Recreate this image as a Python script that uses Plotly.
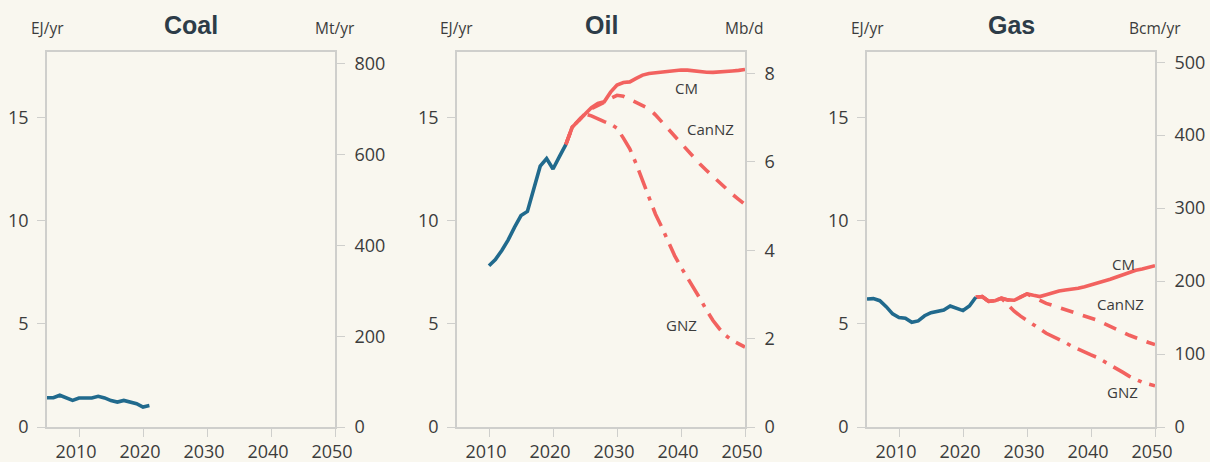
import plotly.graph_objects as go

# ---- data (EJ/yr) ----
coal_years = list(range(2005, 2022))
coal_hist = [1.42, 1.42, 1.54, 1.41, 1.29, 1.41, 1.41, 1.41, 1.49, 1.41,
             1.28, 1.21, 1.29, 1.21, 1.13, 0.97, 1.04]

oil_hist_years = list(range(2010, 2023))
oil_hist = [7.83, 8.13, 8.57, 9.08, 9.70, 10.26, 10.46, 11.51, 12.66, 13.03,
            12.52, 13.12, 13.70]

proj_years = list(range(2022, 2051))
oil_cm = [13.70, 14.55, 14.87, 15.20, 15.50, 15.70, 15.78, 16.25, 16.60, 16.72,
          16.75, 16.92, 17.08, 17.16, 17.20, 17.24, 17.27, 17.30, 17.33, 17.32,
          17.28, 17.24, 17.22, 17.21, 17.22, 17.25, 17.28, 17.31, 17.35]
oil_cannz = [13.70, 14.55, 14.87, 15.20, 15.45, 15.60, 15.75, 15.95, 16.10, 16.05,
             15.90, 15.75, 15.60, 15.45, 15.15, 14.80, 14.45, 14.10, 13.75, 13.40,
             13.05, 12.75, 12.45, 12.15, 11.85, 11.58, 11.30, 11.05, 10.80]
oil_gnz = [13.70, 14.55, 14.87, 15.20, 15.10, 14.95, 14.82, 14.70, 14.50, 14.02,
           13.50, 12.77, 11.96, 11.15, 10.34, 9.70, 8.97, 8.32, 7.76, 7.27,
           6.79, 6.22, 5.66, 5.17, 4.77, 4.44, 4.20, 4.04, 3.88]

gas_years = list(range(2005, 2023))
gas_hist = [6.21, 6.23, 6.13, 5.84, 5.49, 5.31, 5.28, 5.08, 5.15, 5.40,
            5.55, 5.60, 5.68, 5.87, 5.74, 5.65, 5.87, 6.30]
gas_cm = [6.30, 6.33, 6.10, 6.13, 6.25, 6.17, 6.15, 6.30, 6.46, 6.39,
          6.33, 6.42, 6.52, 6.60, 6.65, 6.67, 6.73, 6.81, 6.89, 6.97,
          7.07, 7.17, 7.28, 7.39, 7.49, 7.61, 7.67, 7.77, 7.83]
gas_cannz = [6.30, 6.33, 6.10, 6.13, 6.25, 6.17, 6.15, 6.30, 6.46, 6.30,
             6.15, 6.00, 5.90, 5.80, 5.70, 5.60, 5.50, 5.40, 5.32, 5.18,
             5.03, 4.90, 4.75, 4.60, 4.45, 4.32, 4.20, 4.10, 4.00]
gas_gnz = [6.30, 6.33, 6.10, 6.13, 6.25, 5.92, 5.62, 5.38, 5.19, 4.98,
           4.76, 4.55, 4.40, 4.27, 4.10, 3.92, 3.77, 3.63, 3.50, 3.37,
           3.20, 3.03, 2.85, 2.65, 2.46, 2.30, 2.17, 2.08, 2.00]

panel_titles = ["Coal", "Oil", "Gas"]
right_units = ["Mt/yr", "Mb/d", "Bcm/yr"]
right_tops = [826, 8.49, 514]
right_ticks = [[0, 200, 400, 600, 800], [0, 2, 4, 6, 8], [0, 100, 200, 300, 400, 500]]
left_ticks = [0, 5, 10, 15]
x_ticks = [2010, 2020, 2030, 2040, 2050]

# ---- style ----
BG = "#f9f7ef"
FRAME = "#cfcfcc"
BLUE = "#216a8d"
RED = "#f2625f"
TXT = "#3c3c3c"
FONT = "'Open Sans', Lato, sans-serif"
W, H = 1210, 462
LW = 3.6

panel_left_px = [47, 457, 867]
panel_w_px = 288
top_px, bottom_px = 52, 427
y_top = 18.2

fig = go.Figure()


def add_line(x, y, panel, dash="solid", color=RED):
    fig.add_trace(go.Scatter(
        x=x, y=y, mode="lines", xaxis=f"x{panel}", yaxis=f"y{2 * panel - 1}",
        line=dict(color=color, width=LW, dash=dash), showlegend=False,
        hoverinfo="skip"))


DASH = "13px,10px"
DASHDOT = "20px,8px,4px,8px"

# Coal
add_line(coal_years, coal_hist, 1, color=BLUE)
# Oil
add_line(proj_years, oil_gnz, 2, DASHDOT)
add_line(proj_years, oil_cannz, 2, DASH)
add_line(proj_years, oil_cm, 2)
add_line(oil_hist_years, oil_hist, 2, color=BLUE)
# Gas
add_line(proj_years, gas_gnz, 3, DASHDOT)
add_line(proj_years, gas_cannz, 3, DASH)
add_line(proj_years, gas_cm, 3)
add_line(gas_years, gas_hist, 3, color=BLUE)

# empty traces so each secondary (right-hand) axis gets rendered
for p in (1, 2, 3):
    fig.add_trace(go.Scatter(x=[], y=[], xaxis=f"x{p}", yaxis=f"y{2 * p}",
                             mode="lines", showlegend=False, hoverinfo="skip"))

layout = dict(
    width=W, height=H, paper_bgcolor=BG, plot_bgcolor=BG,
    margin=dict(l=0, r=0, t=0, b=0), showlegend=False,
    font=dict(family=FONT, color=TXT, size=18),
)

ydom = [(H - bottom_px) / H, (H - top_px) / H]
annotations = []
for i in range(3):
    p = i + 1
    x0 = panel_left_px[i] / W
    x1 = (panel_left_px[i] + panel_w_px) / W
    axis_common = dict(showgrid=False, zeroline=False, showline=True,
                       linecolor=FRAME, linewidth=1.6, ticks="outside",
                       ticklen=8, tickwidth=1.4, tickcolor=FRAME,
                       tickfont=dict(family=FONT, size=18, color=TXT),
                       automargin=False, fixedrange=True)
    layout[f"xaxis{p}"] = dict(axis_common, domain=[x0, x1], range=[2005, 2050],
                               anchor=f"y{2 * p - 1}", tickvals=x_ticks,
                               mirror=True, ticklabelstandoff=0,
                               ticklabelshift=-3)
    layout[f"yaxis{2 * p - 1}"] = dict(axis_common, domain=ydom, range=[0, y_top],
                                       anchor=f"x{p}", tickvals=left_ticks,
                                       side="left", ticklabelstandoff=5)
    layout[f"yaxis{2 * p}"] = dict(axis_common, domain=ydom,
                                   range=[0, right_tops[i]],
                                   anchor=f"x{p}", overlaying=f"y{2 * p - 1}",
                                   side="right", tickvals=right_ticks[i],
                                   ticklabelstandoff=6)
    xc = (x0 + x1) / 2
    annotations.append(dict(text=f"<b>{panel_titles[i]}</b>", x=xc, y=1 - 25 / H,
                            xref="paper", yref="paper", showarrow=False,
                            font=dict(family="Liberation Sans, Arial", size=25,
                                      color="#2d3c48"),
                            xanchor="center", yanchor="middle"))
    annotations.append(dict(text="EJ/yr", x=x0, y=1 - 28 / H, xref="paper",
                            yref="paper", showarrow=False, xanchor="center",
                            yanchor="middle",
                            font=dict(family=FONT, size=15.5, color=TXT)))
    annotations.append(dict(text=right_units[i], x=x1, y=1 - 28 / H, xref="paper",
                            yref="paper", showarrow=False, xanchor="center",
                            yanchor="middle",
                            font=dict(family=FONT, size=15.5, color=TXT)))

# Scenario labels
scenario_labels = [
    (2, "CM", 2040.9, 16.47), (2, "CanNZ", 2044.6, 14.47), (2, "GNZ", 2040.0, 4.95),
    (3, "CM", 2045.0, 7.91), (3, "CanNZ", 2044.65, 5.97), (3, "GNZ", 2044.85, 1.71),
]
for p, t, xv, yv in scenario_labels:
    annotations.append(dict(text=t, x=xv, y=yv, xref=f"x{p}", yref=f"y{2 * p - 1}",
                            showarrow=False, xanchor="center", yanchor="middle",
                            font=dict(family=FONT, size=15, color=TXT)))

layout["annotations"] = annotations
fig.update_layout(**layout)
fig.write_html("out.html")
